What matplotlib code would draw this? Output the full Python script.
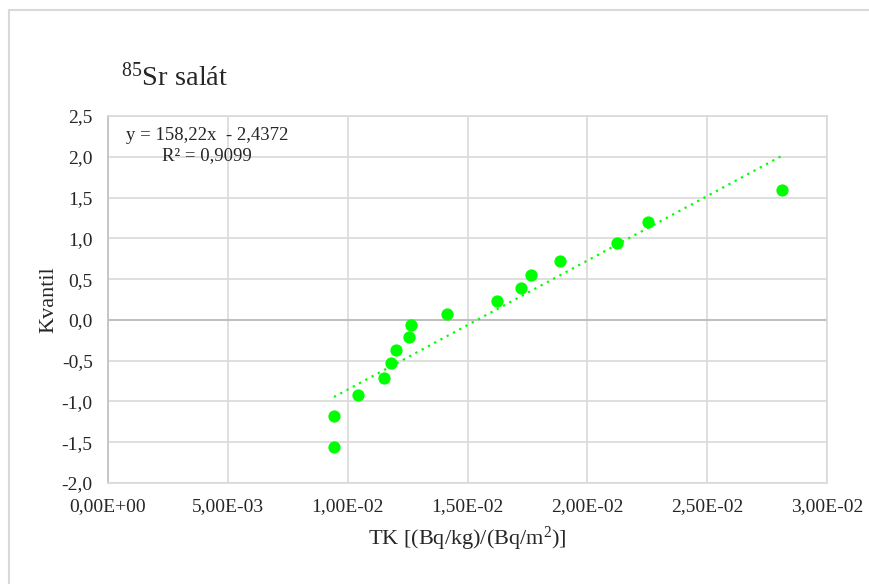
import matplotlib
matplotlib.use('Agg')
import matplotlib.pyplot as plt
from matplotlib.patches import Rectangle
from matplotlib.ticker import FuncFormatter
import numpy as np

plt.rcParams['font.family'] = ['Liberation Serif', 'DejaVu Serif']
plt.rcParams['mathtext.fontset'] = 'custom'
plt.rcParams['mathtext.rm'] = 'Liberation Serif'
plt.rcParams['mathtext.default'] = 'regular'

# TK values and quantiles
tk = [0.00943, 0.00943, 0.01043, 0.01152, 0.01182, 0.01203, 0.01257, 0.01265,
      0.01416, 0.01622, 0.01722, 0.01764, 0.01885, 0.02124, 0.02254, 0.02811]
kvantil = [-1.56, -1.18, -0.92, -0.71, -0.53, -0.37, -0.21, -0.06,
           0.07, 0.23, 0.39, 0.55, 0.72, 0.94, 1.20, 1.59]

# linear trendline from the chart label
slope = 158.22
intercept = -2.4372
r2 = 0.9099

green = '#00ff00'
txt = '#262626'

fig = plt.figure(figsize=(8.69, 5.84), dpi=100)

# chart outer border
fig.patches.append(Rectangle((9/869, -0.1), 1.1, 1 - 10/584 + 0.1,
                             transform=fig.transFigure, fill=False,
                             edgecolor='#d9d9d9', linewidth=1.5))

ax = fig.add_axes([108/869, 1 - 483/584, 719/869, 367/584])

ax.scatter(tk, kvantil, s=78, color=green, zorder=3, linewidths=0)

xl = np.array([min(tk), max(tk)])
ax.plot(xl, slope * xl + intercept, color=green, linewidth=1.6,
        linestyle=(0, (1, 2.2)), zorder=2)

ax.set_xlim(0, 0.03)
ax.set_ylim(-2.0, 2.5)
ax.set_xticks(np.arange(0, 0.0301, 0.005))
ax.set_yticks(np.arange(-2.0, 2.51, 0.5))
ax.xaxis.set_major_formatter(FuncFormatter(lambda v, p: ('%.2E' % v).replace('.', ',')))
ax.yaxis.set_major_formatter(FuncFormatter(lambda v, p: ('%.1f' % v).replace('.', ',')))
ax.tick_params(length=0, labelsize=14, labelcolor=txt)
ax.tick_params(axis='x', pad=11)
ax.tick_params(axis='y', pad=11)

ax.grid(True, color='#d9d9d9', linewidth=1.2, zorder=0)
ax.set_axisbelow(True)
ax.axhline(0, color='#bfbfbf', linewidth=1.5, zorder=1)
for s in ax.spines.values():
    s.set_color('#d9d9d9')
    s.set_linewidth(1.2)
ax.spines['left'].set_color('#bfbfbf')

ax.set_xlabel('TK [(Bq/kg)/(Bq/m$^2$)]', fontsize=16, labelpad=7, color=txt)
ax.set_ylabel('Kvantil', fontsize=16, labelpad=2, color=txt)

fig.text(121/869, 1 - 86/584, '$^{85}$Sr salát', fontsize=20.5, color=txt)

ax.text(207/869, 1 - 135/584, 'y = 158,22x  - 2,4372', transform=fig.transFigure,
        ha='center', va='center', fontsize=13.5, color=txt)
ax.text(207/869, 1 - 156/584, 'R² = ' + ('%.4f' % r2).replace('.', ','),
        transform=fig.transFigure, ha='center', va='center', fontsize=13.5,
        color=txt)

plt.savefig('out.png', dpi=100)
